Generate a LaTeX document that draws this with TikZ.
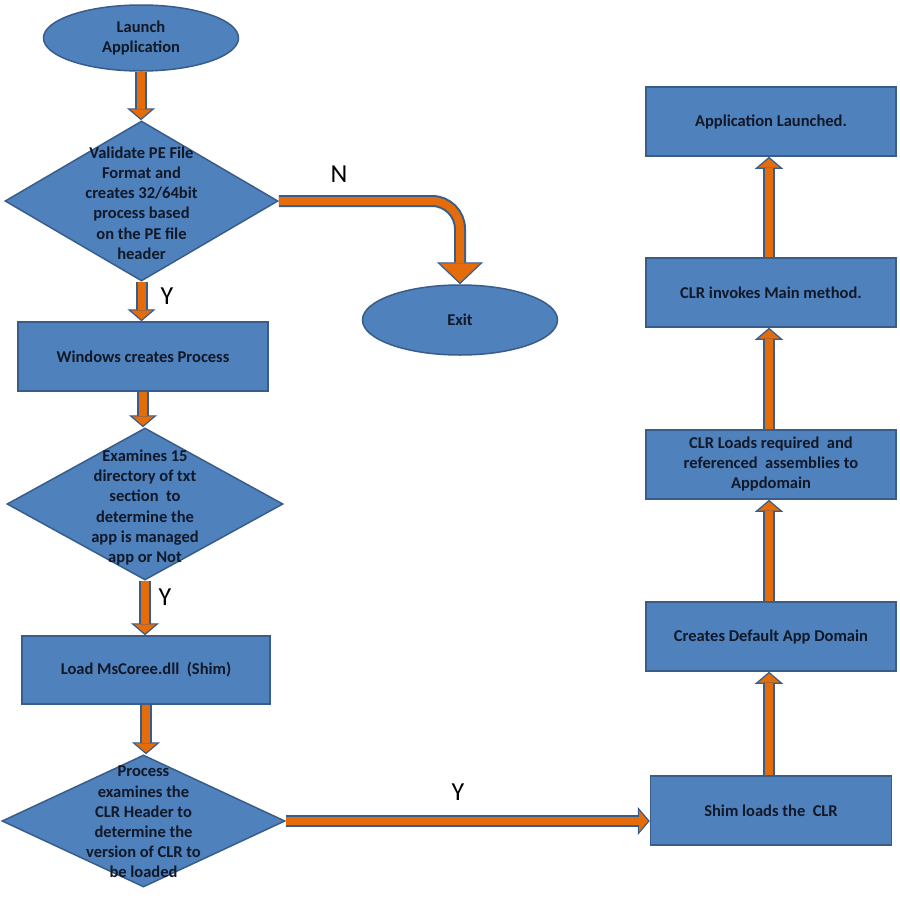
\documentclass[tikz,border=0pt]{standalone}
\usepackage{fontspec}
\setmainfont{Carlito}
\usetikzlibrary{shapes.geometric,arrows.meta}
\definecolor{boxfill}{HTML}{4F81BD}
\definecolor{boxline}{HTML}{385D8A}
\definecolor{arrfill}{HTML}{E46C0A}
\definecolor{txtcol}{HTML}{111827}
\tikzset{
  base/.style={draw=boxline, fill=boxfill, line width=1.5pt, inner sep=0pt, text=txtcol,
    font=\bfseries\fontsize{16.5}{20}\selectfont, align=center},
  stepbox/.style={base, rectangle, minimum width=250pt, minimum height=69pt},
  ovalbox/.style={base, ellipse, minimum width=195pt, minimum height=66pt},
  decbox/.style={base, diamond},
  dtext/.style={text=txtcol, font=\bfseries\fontsize{16.5}{20.2}\selectfont, align=center, inner sep=0pt},
  lbl/.style={text=black, font=\fontsize{26}{26}\selectfont, inner sep=0pt},
  flowout/.style={draw=boxline, line width=12pt,
    -{Triangle[width=28pt,length=12pt,line width=1.2pt,fill=arrfill]}},
  flowin/.style={draw=arrfill, line width=8pt, shorten >=11pt},
  bigout/.style={draw=boxline, line width=12pt,
    -{Triangle[width=46pt,length=22pt,line width=1.2pt,fill=arrfill]}},
  bigin/.style={draw=arrfill, line width=8pt, shorten >=21pt},
}
\begin{document}
\begin{tikzpicture}[x=1pt,y=-1pt]
\useasboundingbox[fill=white] (0,0) rectangle (900,900);
% left column
\node[ovalbox] (launch) at (141,38) {Launch\\Application};
\node[decbox, minimum width=273pt, minimum height=160pt] (d1) at (141.5,201) {};
\node[dtext] (d1t) at ([yshift=-2pt]d1.center) {Validate PE File\\Format and\\creates 32/64bit\\process based\\on the PE file\\header};
\node[stepbox] (r1) at (143,356.5) {Windows creates Process};
\node[decbox, minimum width=276pt, minimum height=152pt] (d2) at (145,504) {};
\node[dtext] (d2t) at ([yshift=-3.5pt]d2.center) {Examines 15\\directory of txt\\section\ \ to\\determine the\\app is managed\\app or Not};
\node[stepbox, minimum width=248pt, minimum height=68pt] (r2) at (146,670) {Load MsCoree.dll\ \ (Shim)};
\node[decbox, minimum width=283pt, minimum height=132pt] (d3) at (143.5,821) {};
\node[dtext] (d3t) at ([yshift=-1pt]d3.center) {Process\\examines the\\CLR Header to\\determine the\\version of CLR to\\be loaded};
% exit
\node[ovalbox, minimum height=70pt] (exit) at (460,320) {Exit};
% right column
\node[stepbox, minimum width=241pt, minimum height=69pt] (shim) at (771,810.5) {Shim loads the\ \ CLR};
\node[stepbox] (cd) at (771,636.5) {Creates Default App Domain};
\node[stepbox] (cl) at (771,464.5) {CLR Loads required\ \ and\\referenced\ \ assemblies to\\Appdomain};
\node[stepbox] (ci) at (771,292.5) {CLR invokes Main method.};
\node[stepbox] (al) at (771,121.5) {Application Launched.};
% labels
\node[lbl] (ln) at (339,174) {N};
\node[lbl] (ly1) at (167,296) {Y};
\node[lbl] (ly2) at (165,597) {Y};
\node[lbl] (ly3) at (458,792) {Y};
% connectors
\foreach \a/\b in {launch/d1, d1/r1, r1/d2, d2/r2, r2/d3} {
  \draw[flowout] (\a.south) -- (\a.south |- \b.north);
  \draw[flowin] (\a.south) -- (\a.south |- \b.north);
}
\foreach \a/\b in {shim/cd, cd/cl, cl/ci, ci/al} {
  \draw[flowout] ([xshift=-2pt]\a.north) -- ([xshift=-2pt]\a.north |- \b.south);
  \draw[flowin] ([xshift=-2pt]\a.north) -- ([xshift=-2pt]\a.north |- \b.south);
}
\draw[flowout] (d3.east) -- (d3.east -| shim.west);
\draw[flowin] (d3.east) -- (d3.east -| shim.west);
\draw[bigout, rounded corners=28pt] (d1.east) -| (exit.north);
\draw[bigin, rounded corners=28pt] (d1.east) -| (exit.north);
\end{tikzpicture}
\end{document}
